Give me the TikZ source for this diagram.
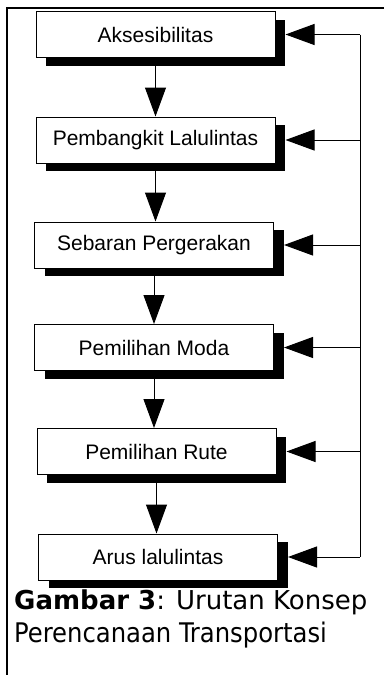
\documentclass[tikz,border=0pt]{standalone}
\usepackage{fontspec}
\setmainfont{Liberation Sans}
\newfontfamily\capfont{DejaVu Sans Condensed}
\newfontfamily\capwide{DejaVu Sans}
\usetikzlibrary{arrows.meta,shadows}

\begin{document}
\begin{tikzpicture}[x=1pt,y=-1pt,
  stepbox/.style={draw=black, line width=1pt, fill=white,
    minimum width=239pt, minimum height=46pt, inner sep=0pt,
    font=\fontsize{21}{25}\selectfont,
    drop shadow={shadow xshift=10pt, shadow yshift=-8pt, fill=black, opacity=1}},
  flow/.style={line width=1pt, -{Triangle[length=29pt,width=21pt]}},
  rail/.style={line width=1pt},
  frameline/.style={line width=2pt},
  captext/.style={anchor=base west, inner sep=0pt}]
  \useasboundingbox (0,0) rectangle (384,675);

  % outer frame (top and left edges)
  \coordinate (ftr) at (384,8);
  \coordinate (ftl) at (7,8);
  \coordinate (fbl) at (7,675);
  \draw[frameline] (ftr) -- (ftl) -- (fbl);

  % process steps
  \node[stepbox] (b1) at (155.5,34.5) {Aksesibilitas};
  \node[stepbox] (b2) at (155.5,140) {Pembangkit Lalulintas};
  \node[stepbox] (b3) at (154,245) {Sebaran Pergerakan};
  \node[stepbox] (b4) at (154,347.5) {Pemilihan Moda};
  \node[stepbox] (b5) at (156.5,451.5) {Pemilihan Rute};
  \node[stepbox] (b6) at (158,557) {Arus lalulintas};

  % downward sequence
  \draw[flow] (b1.south) -- (b1.south |- b2.north);
  \draw[flow] (b2.south) -- (b2.south |- b3.north);
  \draw[flow] (b3.south) -- (b3.south |- b4.north);
  \draw[flow] (b4.south) -- (b4.south |- b5.north);
  \draw[flow] (b5.south) -- (b5.south |- b6.north);

  % feedback rail on the right
  \coordinate (rail) at (360,0);
  \draw[rail] (b1.east -| rail) -- (b6.east -| rail);
  \foreach \n in {b1,b2,b3,b4,b5,b6}
    \draw[flow] (\n.east -| rail) -- ([xshift=10pt]\n.east);

  % caption
  \node[captext, font=\capwide\fontsize{26}{30}\selectfont] (cap1) at (14,609)
    {\textbf{Gambar 3}: Urutan Konsep};
  \node[captext, font=\capfont\fontsize{27}{30}\selectfont] (cap2) at (14,642)
    {Perencanaan Transportasi};
\end{tikzpicture}
\end{document}
